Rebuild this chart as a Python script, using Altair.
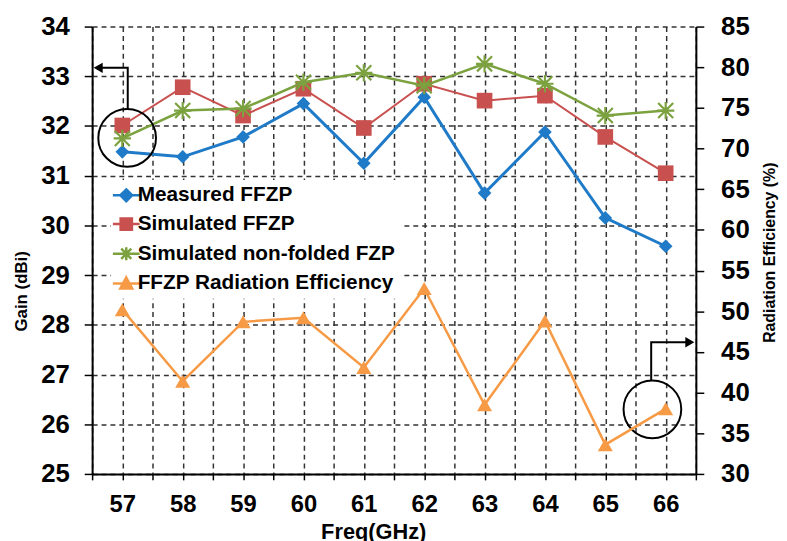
import altair as alt
import pandas as pd

# ---------------- data ----------------
freq = [57, 58, 59, 60, 61, 62, 63, 64, 65, 66]
measured_ffzp = [31.48, 31.38, 31.78, 32.45, 31.25, 32.58, 30.65, 31.88, 30.15, 29.58]
simulated_ffzp = [32.01, 32.78, 32.21, 32.75, 31.96, 32.85, 32.51, 32.61, 31.78, 31.05]
simulated_nonfolded = [31.75, 32.31, 32.35, 32.88, 33.07, 32.81, 33.25, 32.85, 32.21, 32.31]
radiation_eff = [50.2, 41.4, 48.7, 49.2, 43.1, 52.8, 38.5, 48.8, 33.6, 38.0]

series_names = ["Measured FFZP", "Simulated FFZP", "Simulated non-folded FZP",
                "FFZP Radiation Efficiency"]
series_colors = ["#1F7BC8", "#C8504F", "#7BA23F", "#F79A45"]

gain_ticks = [25, 26, 27, 28, 29, 30, 31, 32, 33, 34]
eff_ticks = [30, 35, 40, 45, 50, 55, 60, 65, 70, 75, 80, 85]
x_ticks = [56.5, 57, 57.5, 58, 58.5, 59, 59.5, 60, 60.5, 61, 61.5,
           62, 62.5, 63, 63.5, 64, 64.5, 65, 65.5, 66, 66.5]

# annotation: circles (freq, gain) and elbow arrows (freq, gain)
circle_freq = [57.08, 65.78]
circle_gain = [31.76, 26.30]
arrow_id = ["left", "left", "left", "right", "right", "right"]
arrow_order = [0, 1, 2, 0, 1, 2]
arrow_freq = [57.09, 57.09, 56.60, 65.76, 65.76, 66.40]
arrow_gain = [32.33, 33.17, 33.17, 26.87, 27.65, 27.65]
head_left = (56.60, 33.17)
head_right = (66.40, 27.65)

FONT = "Liberation Sans"

# ---------------- shared encodings ----------------
x_scale = alt.Scale(domain=[56.5, 66.5], nice=False, zero=False)
x_axis = alt.Axis(
    values=x_ticks, title="Freq(GHz)",
    labelExpr="datum.value % 1 === 0 ? '' + datum.value : ''",
    labelOverlap=False, labelFlush=False,
    tickSize=6, tickColor="black", tickWidth=1.5,
    labelPadding=13, labelFont=FONT, labelFontSize=24, labelFontWeight="bold",
    labelColor="black",
    titleFont=FONT, titleFontSize=22, titleFontWeight="bold", titleColor="black",
    titleX=284, titleY=48, titleBaseline="top", titleAlign="center",
    grid=True, gridDash=[5, 4], gridColor="#333333", gridWidth=1.5, gridOpacity=1,
    domainColor="black", domainWidth=2,
)
gain_scale = alt.Scale(domain=[25, 34], nice=False, zero=False)
gain_axis = alt.Axis(
    values=gain_ticks, orient="left", title="Gain (dBi)",
    tickSize=8, tickColor="black", tickWidth=1.5,
    labelPadding=15, labelFont=FONT, labelFontSize=26, labelFontWeight="bold",
    labelColor="black",
    titleFont=FONT, titleFontSize=17, titleFontWeight="bold", titleColor="black",
    titleAngle=270, titleBaseline="bottom", titleAlign="center",
    titleX=-62, titleY=267,
    grid=True, gridDash=[5, 4], gridColor="#333333", gridWidth=1.5, gridOpacity=1,
    domainColor="black", domainWidth=2,
)
eff_scale = alt.Scale(domain=[30, 85], nice=False, zero=False)
eff_axis = alt.Axis(
    values=eff_ticks, orient="right", title="Radiation Efficiency (%)",
    tickSize=8, tickColor="black", tickWidth=1.5,
    labelPadding=17, labelFont=FONT, labelFontSize=26, labelFontWeight="bold",
    labelColor="black",
    titleFont=FONT, titleFontSize=16, titleFontWeight="bold", titleColor="black",
    titleAngle=270, titleBaseline="bottom", titleAlign="center",
    titleX=82, titleY=228,
    grid=False, domainColor="black", domainWidth=2,
)

X = alt.X("freq:Q", scale=x_scale, axis=x_axis, title="Freq(GHz)")
Yg = alt.Y("gain:Q", scale=gain_scale, axis=gain_axis, title="Gain (dBi)")
Ye = alt.Y("eff:Q", scale=eff_scale, axis=eff_axis, title="Radiation Efficiency (%)")

# ---------------- gain series ----------------
gain_values = [measured_ffzp, simulated_ffzp, simulated_nonfolded]
line_widths = [3, 2, 2.5]
gain_layers = []
for i, vals in enumerate(gain_values):
    d = pd.DataFrame({"freq": freq, "gain": vals})
    base = alt.Chart(d)
    gain_layers.append(
        base.mark_line(color=series_colors[i], strokeWidth=line_widths[i]).encode(x=X, y=Yg)
    )
    if i == 0:
        pts = base.mark_point(shape="diamond", size=190, filled=True,
                              color=series_colors[i], opacity=1)
    elif i == 1:
        pts = base.mark_point(shape="square", size=250, filled=True,
                              color=series_colors[i], opacity=1)
    else:
        pts = base.mark_point(shape="M-1,-1L1,1M-1,1L1,-1M0,-1.15L0,1.15M-1.15,0L1.15,0",
                              size=230, filled=False, strokeWidth=2.2,
                              color=series_colors[i], opacity=1)
    gain_layers.append(pts.encode(x=X, y=Yg))

# ---------------- annotations ----------------
circ_df = pd.DataFrame({"freq": circle_freq, "gain": circle_gain})
circles = alt.Chart(circ_df).mark_point(shape="circle", size=3400, filled=False,
                                        color="black", strokeWidth=2, opacity=1
                                        ).encode(x=X, y=Yg)
arr_df = pd.DataFrame({"freq": arrow_freq, "gain": arrow_gain,
                       "arrow": arrow_id, "ord": arrow_order})
arrows = alt.Chart(arr_df).mark_line(color="black", strokeWidth=2).encode(
    x=X, y=Yg, detail="arrow:N", order="ord:Q")
head_l = alt.Chart(pd.DataFrame({"freq": [head_left[0]], "gain": [head_left[1]]})).mark_point(
    shape="triangle-left", filled=True, size=110, color="black", opacity=1).encode(x=X, y=Yg)
head_r = alt.Chart(pd.DataFrame({"freq": [head_right[0]], "gain": [head_right[1]]})).mark_point(
    shape="triangle-right", filled=True, size=110, color="black", opacity=1).encode(x=X, y=Yg)

# ---------------- legend (line + marker symbols) ----------------
legend_paths = [
    "M-2.25,0H2.25M0,-1L1,0L0,1L-1,0Z",
    "M-2.25,0H2.25M-0.95,-0.95H0.95V0.95H-0.95Z",
    "M-2.25,0H2.25M-0.85,-0.85L0.85,0.85M-0.85,0.85L0.85,-0.85M0,-1.1V1.1",
    "M-2.25,0H2.25M0,-1L1,0.85L-1,0.85Z",
]
leg = alt.Legend(orient="none", legendX=19, legendY=155, title=None,
                 fillColor="white", padding=5, labelFont=FONT, labelFontSize=21,
                 labelFontWeight="bold", labelColor="black", labelLimit=400,
                 symbolSize=144, symbolStrokeWidth=2.5, symbolOpacity=1,
                 rowPadding=6, labelOffset=1)
leg_df = pd.DataFrame({"series": series_names})
legend_layer = alt.Chart(leg_df).mark_point(clip=True).encode(
    x=alt.value(-200), y=alt.value(-200),
    fill=alt.Fill("series:N", scale=alt.Scale(domain=series_names, range=series_colors),
                  legend=leg),
    stroke=alt.Stroke("series:N", scale=alt.Scale(domain=series_names, range=series_colors),
                      legend=leg),
    shape=alt.Shape("series:N", scale=alt.Scale(domain=series_names, range=legend_paths),
                    legend=leg),
)

gain_layer = alt.layer(*gain_layers, circles, arrows, head_l, head_r, legend_layer)

# ---------------- efficiency (right axis) ----------------
eff_df = pd.DataFrame({"freq": freq, "eff": radiation_eff})
eff_line = alt.Chart(eff_df).mark_line(color=series_colors[3], strokeWidth=2.5).encode(x=X, y=Ye)
eff_pts = alt.Chart(eff_df).mark_point(shape="triangle-up", size=230, filled=True,
                                       color=series_colors[3], opacity=1).encode(x=X, y=Ye)
eff_layer = alt.layer(eff_line, eff_pts)

chart = alt.layer(gain_layer, eff_layer).resolve_scale(y="independent").properties(
    width=610, height=452,
    autosize=alt.AutoSizeParams(type="none"),
    padding={"left": 85, "top": 16, "right": 84, "bottom": 65},
    background="white",
).configure_view(stroke=None)

chart.save("out.html", embed_options={"renderer": "svg", "actions": False})
